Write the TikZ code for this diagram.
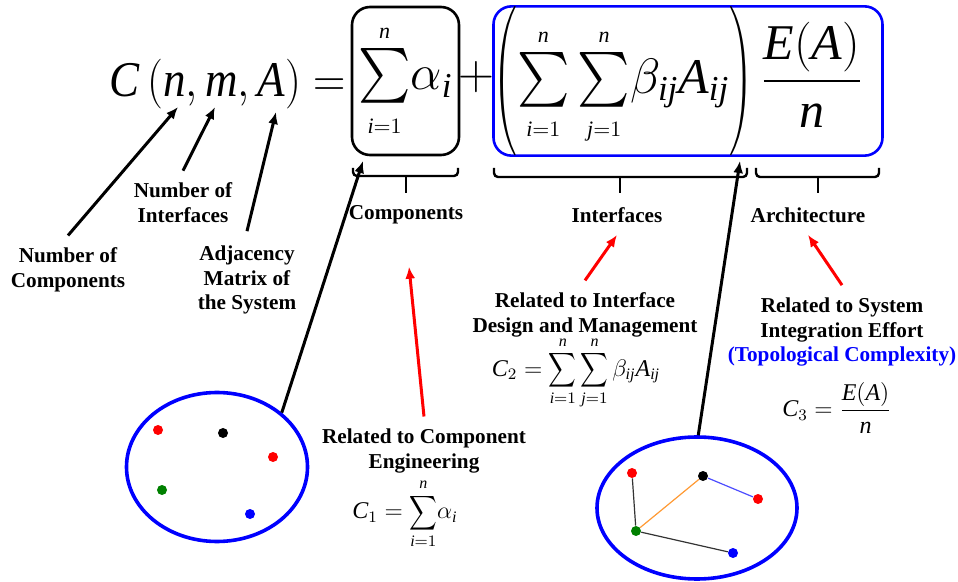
\documentclass[tikz,border=0pt]{standalone}
\usepackage{amsmath}
\usepackage{graphicx}
\usepackage{fontspec}
\setmainfont{Liberation Serif}
\usetikzlibrary{arrows.meta,positioning,shapes.geometric}
\newcommand\vi[1]{\textit{#1}}
\newcommand\opsum[3]{\mathop{\scalebox{#1}[#2]{$#3\sum$}}\limits}
\newcommand\lmt[1]{\mbox{\fontsize{11}{12}\selectfont$#1$}}
\newcommand\lpar{\mathopen{\scalebox{0.6}[1]{$\Biggl($}}}
\newcommand\rpar{\mathclose{\scalebox{0.6}[1]{$\Biggr)$}}}

\begin{document}
\begin{tikzpicture}[
  x=0.5pt, y=-0.5pt,
  lbl/.style={font=\fontsize{10.6}{12.4}\selectfont\bfseries, align=center, inner sep=0pt},
  eq/.style={font=\fontsize{25}{30}\selectfont, inner sep=0pt},
  subeq/.style={font=\fontsize{12}{14}\selectfont, inner sep=0pt},
  termbox/.style={draw, rounded corners=9pt, line width=1.3pt, inner sep=0pt},
  arr/.style={draw, line width=1.5pt, -{Latex[length=6pt,width=5pt]}},
  redarr/.style={arr, red},
  brace/.style={draw, line width=1.2pt, rounded corners=2pt},
  sys/.style={draw=blue, ellipse, line width=1.8pt, inner sep=0pt},
  dot/.style={circle, fill=#1, inner sep=0pt, minimum size=5pt},
  wire/.style={draw=#1, line width=0.6pt}
]
\useasboundingbox (0,0) rectangle (958,582);

% main expression
\node[eq, anchor=base east] (lhs) at (346,97)
  {\scalebox{0.9}[1]{$\vi{C}\,(\vi{n},\vi{m},\vi{A})=$}};
\node[eq, termbox, minimum width=53.5pt, minimum height=74pt] (csum) at (405.5,81)
  {$\opsum{1}{1.1}{\textstyle}_{\lmt{\vi{i}{=}1}}^{\lmt{\vi{n}}}\!\alpha_{\vi{i}}$};
\node[eq] (plus) at (476,77) {$+$};
\node[eq, termbox, draw=blue, minimum width=194pt, minimum height=74pt] (isum) at (688,81)
  {$\lpar\opsum{1}{1.1}{\textstyle}_{\lmt{\vi{i}{=}1}}^{\lmt{\vi{n}}}
   \opsum{1}{1.1}{\textstyle}_{\lmt{\vi{j}{=}1}}^{\lmt{\vi{n}}}
   \!\beta_{\vi{ij}}\vi{A}_{\vi{ij}}\rpar\,\dfrac{\vi{E}(\vi{A})}{\vi{n}}\hspace{10pt}$};

% braces
\draw[brace] (353,168) -- (353,176) -- (458,176) -- (458,168);
\draw[brace] (406,176) -- (406,193);
\draw[brace] (494,168) -- (494,177) -- (747,177) -- (747,168);
\draw[brace] (620,177) -- (620,193);
\draw[brace] (756,168) -- (756,177) -- (879,177) -- (879,168);
\draw[brace] (818,177) -- (818,193);

\node[lbl] (ccomp) at (406,215) {Components};
\node[lbl] (cintf) at (617,215) {Interfaces};
\node[lbl] (carch) at (808,215) {Architecture};

% arguments
\node[lbl] (ncomp) at (68,270) {Number of\\Components};
\node[lbl] (nintf) at (183,203) {Number of\\Interfaces};
\node[lbl] (adj) at (247,280) {Adjacency\\Matrix of\\the System};
\coordinate (nvar) at (178,107);
\coordinate (mvar) at (215,107);
\coordinate (avar) at (276,112);
\draw[arr] ([yshift=6pt]ncomp.north) -- (nvar);
\draw[arr] ([yshift=6pt]nintf.north) -- (mvar);
\draw[arr] ([yshift=7pt]adj.north) -- (avar);

% contributions
\node[lbl] (c1lbl) at (424,451) {Related to Component\\Engineering};
\node[subeq] (c1eq) at (405,514)
  {$\vi{C}_1=\opsum{0.8}{1}{\displaystyle}_{\vi{i}=1}^{\vi{n}}\!\alpha_{\vi{i}}$};
\node[lbl] (c2lbl) at (585,315) {Related to Interface\\Design and Management};
\node[subeq] (c2eq) at (576,373)
  {$\vi{C}_2=\opsum{0.8}{1}{\displaystyle}_{\vi{i}=1}^{\vi{n}}\opsum{0.8}{1}{\displaystyle}_{\vi{j}=1}^{\vi{n}}\beta_{\vi{ij}}\vi{A}_{\vi{ij}}$};
\node[lbl] (c3lbl) at (842,332) {Related to System\\Integration Effort\\\textcolor{blue}{(Topological Complexity)}};
\node[subeq] (c3eq) at (837,408) {$\vi{C}_3=\dfrac{\vi{E}(\vi{A})}{\vi{n}}$};
\draw[redarr] ([yshift=6pt]c1lbl.north) -- ([xshift=1.5pt,yshift=-21pt]ccomp.south);
\draw[redarr] ([yshift=6pt]c2lbl.north) -- ([yshift=-6pt]cintf.south);
\draw[redarr] ([yshift=6pt]c3lbl.north) -- ([yshift=-6pt]carch.south);

% systems
\node[sys, minimum width=90.5pt, minimum height=74.5pt] (ell1) at (217,467) {};
\node[dot=red] (a1) at (158,430) {};
\node[dot=black] (a2) at (223,433) {};
\node[dot=red] (a3) at (273,457) {};
\node[dot=green!50!black] (a4) at (162,490) {};
\node[dot=blue] (a5) at (250,514) {};

\node[sys, minimum width=100pt, minimum height=71pt] (ell2) at (697,508) {};
\node[dot=red] (b1) at (632,473) {};
\node[dot=black] (b2) at (703,476) {};
\node[dot=red] (b3) at (758,499) {};
\node[dot=green!50!black] (b4) at (636,531) {};
\node[dot=blue] (b5) at (733,553) {};
\draw[wire=black!80] (b1) -- (b4);
\draw[wire=orange!80] (b2) -- (b4);
\draw[wire=blue!70] (b2) -- (b3);
\draw[wire=black!80] (b4) -- (b5);

\coordinate (c1tip) at (363,161);
\coordinate (c2tip) at (740,161);
\draw[arr] (ell1.40) -- (c1tip);
\draw[arr] (ell2.89) -- (c2tip);
\end{tikzpicture}
\end{document}
